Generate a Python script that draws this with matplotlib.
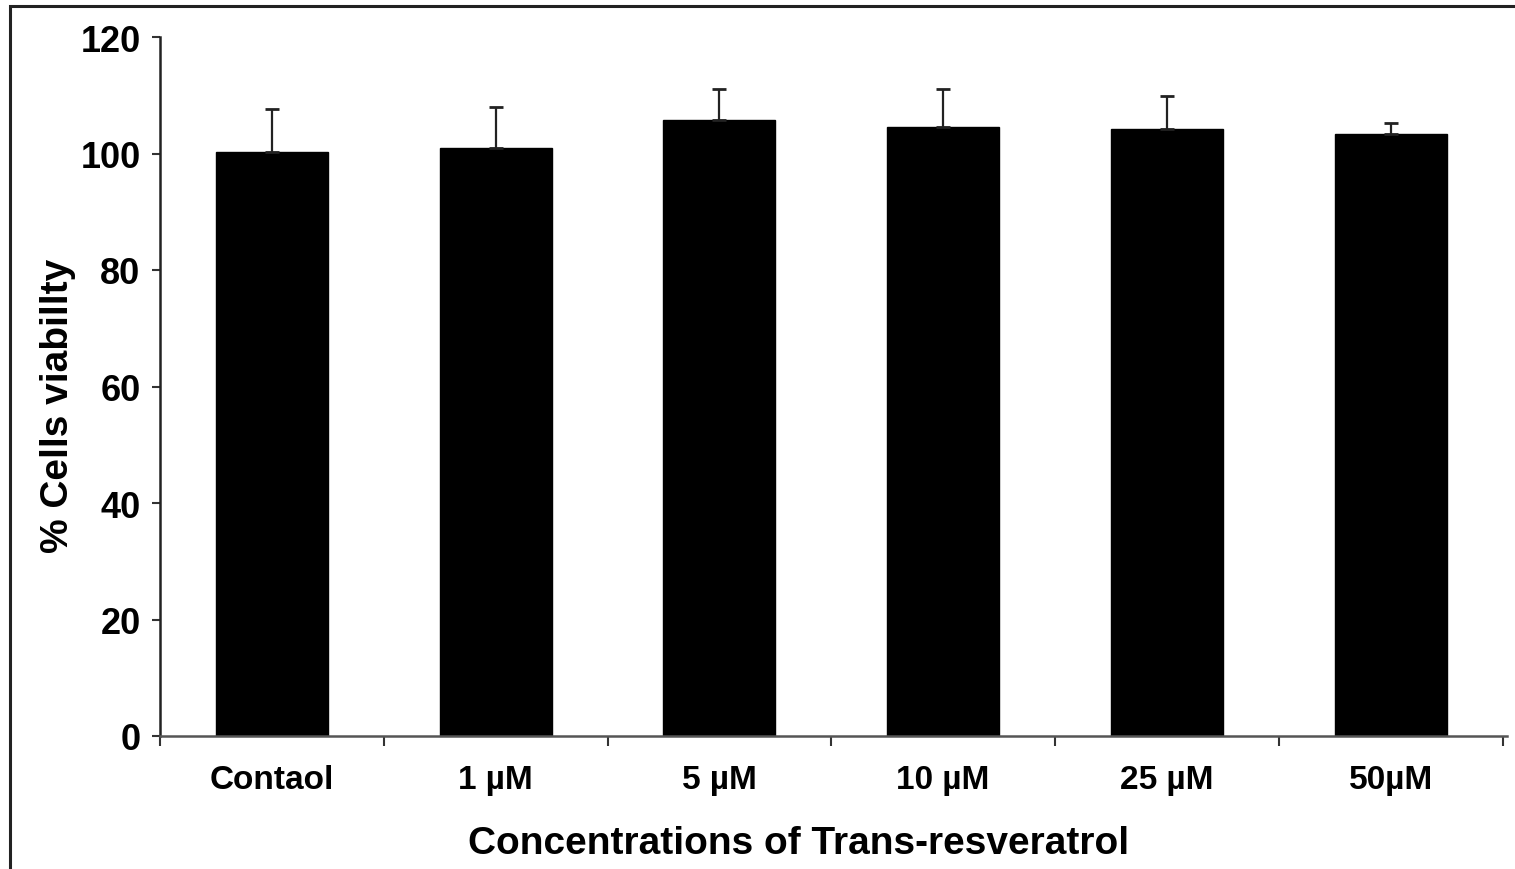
import numpy as np
import matplotlib.pyplot as plt
from matplotlib.patches import Rectangle
from matplotlib.ticker import FixedLocator

plt.rcParams['font.family'] = ['Liberation Sans', 'DejaVu Sans']
plt.rcParams['font.weight'] = 'bold'

labels = ["Contaol", "1 µM", "5 µM", "10 µM", "25 µM", "50µM"]
viability = [100.2, 101.0, 105.7, 104.6, 104.2, 103.3]
sd = [7.5, 7.0, 5.3, 6.4, 5.6, 1.9]

fig = plt.figure(figsize=(15.15, 8.7), dpi=100)
ax = fig.add_axes([160/1515, 133/870, 1347/1515, 699/870])

# frame around the figure (top and left edges visible)
fig.patches.append(Rectangle((10/1515, -0.05), 1.2, (870-7)/870 + 0.05, transform=fig.transFigure,
                             fill=False, edgecolor="#222222", linewidth=2.2))

x = np.arange(len(labels))
ax.bar(x, viability, width=0.5, color="black", edgecolor="black")
ax.errorbar(x, viability, yerr=[np.zeros(len(sd)), sd], fmt="none", ecolor="#222222",
            elinewidth=1.6, capsize=5, capthick=2)

ax.set_xlim(-0.5, 5.52)
ax.set_ylim(0, 120)
ax.set_yticks(np.arange(0, 121, 20))
ax.set_xticks(x)
ax.set_xticklabels(labels, fontsize=24, fontweight="bold")
ax.xaxis.set_minor_locator(FixedLocator(np.arange(-0.5, 5.6, 1)))
ax.tick_params(axis="x", which="major", length=0, pad=20)
ax.tick_params(axis="x", which="minor", length=7, width=1.5, direction="out", color="#333333")
ax.tick_params(axis="y", length=6, width=1.5, direction="out", labelsize=26, pad=8, color="#333333")
for t in ax.get_yticklabels():
    t.set_fontweight("bold")

for s in ["top", "right"]:
    ax.spines[s].set_visible(False)
ax.spines["left"].set_linewidth(1.8)
ax.spines["bottom"].set_linewidth(1.8)
ax.spines["left"].set_color("#222222")
ax.spines["bottom"].set_color("#555555")

ax.set_ylabel("% Cells viabillty", fontsize=28, fontweight="bold")
ax.set_xlabel("Concentrations of Trans-resveratrol", fontsize=28, fontweight="bold")
ax.yaxis.set_label_coords(-0.062, 0.473)
ax.xaxis.set_label_coords(0.474, -0.128)

fig.savefig("out.png", dpi=100)
